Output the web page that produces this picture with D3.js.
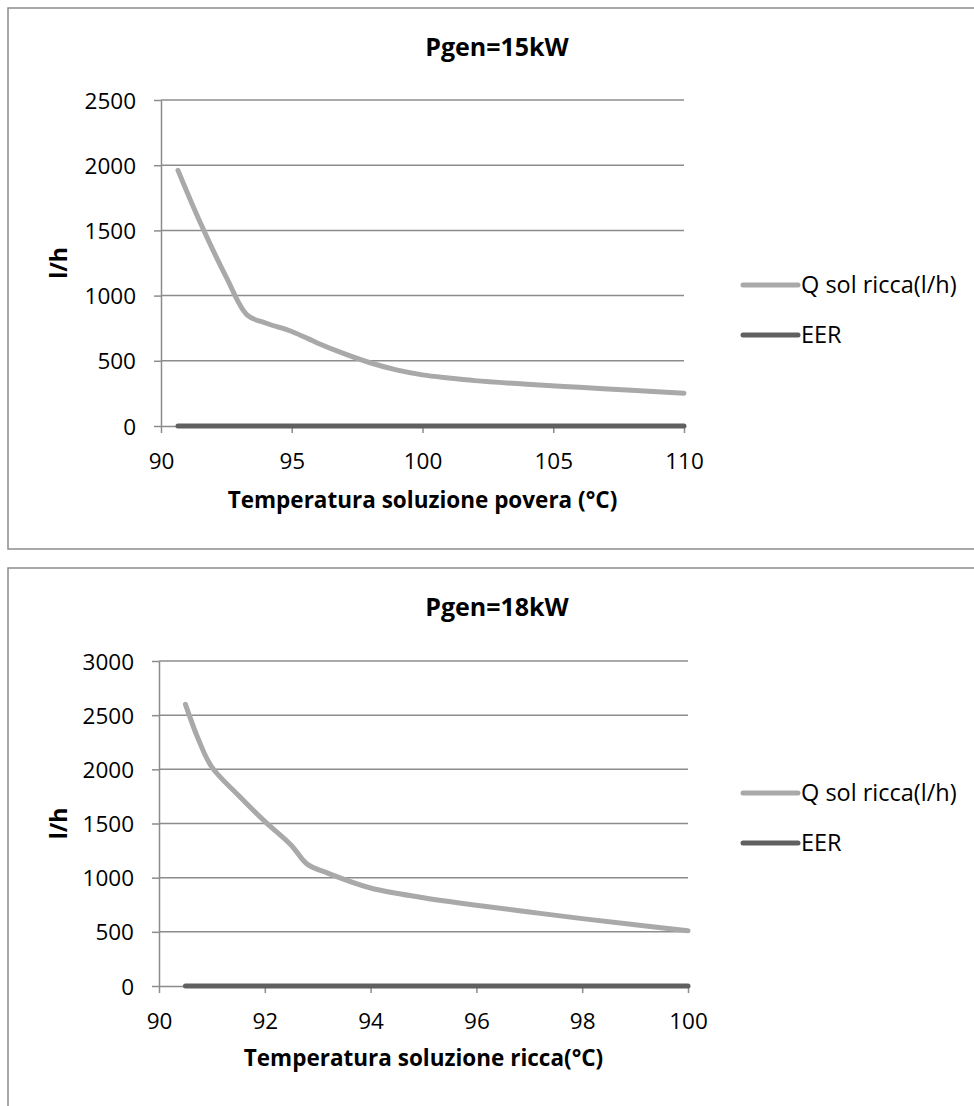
<!DOCTYPE html>
<html>
<head>
<meta charset="utf-8">
<script src="https://cdn.jsdelivr.net/npm/d3@7"></script>
<style>
  body { margin: 0; background: #fff; }
  svg { display: block; font-family: "Open Sans", sans-serif; }
</style>
</head>
<body>
<svg id="chart" width="974" height="1106"></svg>
<script>
// chart 1 : Pgen=15kW
var temp15 = [90.65, 91.5, 92.5, 93.3, 94, 95, 96, 97, 98, 99, 100, 101, 102, 104, 106, 108, 110];
var qsol15 = [1960, 1560, 1140, 850, 790, 725, 635, 555, 485, 430, 392, 368, 348, 320, 297, 274, 252];
var eer15  = [0, 0, 0, 0, 0, 0, 0, 0, 0, 0, 0, 0, 0, 0, 0, 0, 0];
var xTicks15 = [90, 95, 100, 105, 110];
var yTicks15 = [0, 500, 1000, 1500, 2000, 2500];

// chart 2 : Pgen=18kW
var temp18 = [90.5, 90.75, 91, 91.5, 92, 92.5, 92.8, 93.2, 94, 95, 96, 97, 98, 99, 100];
var qsol18 = [2600, 2270, 2020, 1760, 1520, 1300, 1125, 1040, 905, 815, 745, 683, 622, 565, 510];
var eer18  = [0, 0, 0, 0, 0, 0, 0, 0, 0, 0, 0, 0, 0, 0, 0];
var xTicks18 = [90, 92, 94, 96, 98, 100];
var yTicks18 = [0, 500, 1000, 1500, 2000, 2500, 3000];

var seriesNames = ["Q sol ricca(l/h)", "EER"];
var seriesColors = ["#a9a9a9", "#606060"];

var svg = d3.select("#chart");

function drawChart(cfg) {
  var g = svg.append("g");

  // outer frame
  g.append("rect")
    .attr("x", cfg.frame[0]).attr("y", cfg.frame[1])
    .attr("width", cfg.frame[2]).attr("height", cfg.frame[3])
    .attr("fill", "#fff")
    .attr("stroke", "#8c8c8c")
    .attr("stroke-width", 1.5);

  var x = d3.scaleLinear().domain(cfg.xDomain).range([cfg.left, cfg.right]);
  var y = d3.scaleLinear().domain(cfg.yDomain).range([cfg.bottom, cfg.top]);

  // gridlines
  g.selectAll(".grid")
    .data(cfg.yTicks.filter(function(d) { return d > 0; }))
    .enter().append("line")
    .attr("x1", cfg.left).attr("x2", cfg.right)
    .attr("y1", function(d) { return y(d); })
    .attr("y2", function(d) { return y(d); })
    .attr("stroke", "#8c8c8c")
    .attr("stroke-width", 1.5);

  var yAxis = g.append("g")
    .attr("transform", "translate(" + cfg.left + ",0)")
    .call(d3.axisLeft(y).tickValues(cfg.yTicks).tickFormat(d3.format("d"))
      .tickSizeInner(7).tickSizeOuter(0).tickPadding(18));

  var xAxis = g.append("g")
    .attr("transform", "translate(0," + cfg.bottom + ")")
    .call(d3.axisBottom(x).tickValues(cfg.xTicks).tickFormat(d3.format("d"))
      .tickSizeInner(7).tickSizeOuter(0).tickPadding(20));

  [xAxis, yAxis].forEach(function(a) {
    a.select(".domain").attr("stroke", "#8c8c8c").attr("stroke-width", 1.5);
    a.selectAll(".tick line").attr("stroke", "#8c8c8c").attr("stroke-width", 1.5);
    a.selectAll(".tick text")
      .attr("fill", "#000")
      .style("font-size", "22.5px")
      .style("font-family", "'Open Sans', sans-serif");
  });
  yAxis.selectAll(".tick text").attr("dy", "0.36em");

  // lines
  var line = d3.line()
    .x(function(d) { return x(d[0]); })
    .y(function(d) { return y(d[1]); })
    .curve(d3.curveCatmullRom.alpha(0.5));

  cfg.series.forEach(function(s, i) {
    g.append("path")
      .datum(d3.zip(cfg.temps, s))
      .attr("d", line)
      .attr("fill", "none")
      .attr("stroke", seriesColors[i])
      .attr("stroke-width", 5)
      .attr("stroke-linecap", "round")
      .attr("stroke-linejoin", "round");
  });

  // title
  g.append("text")
    .attr("x", cfg.titleX).attr("y", cfg.titleY)
    .attr("text-anchor", "middle")
    .style("font-size", "25px").style("font-weight", "bold")
    .text(cfg.title);

  // axis titles
  g.append("text")
    .attr("x", (cfg.left + cfg.right) / 2).attr("y", cfg.xTitleY)
    .attr("text-anchor", "middle")
    .style("font-size", "22.5px").style("font-weight", "bold")
    .text(cfg.xTitle);

  g.append("text")
    .attr("transform", "translate(" + 67 + "," + (cfg.top + cfg.bottom) / 2 + ") rotate(-90)")
    .attr("text-anchor", "middle")
    .style("font-size", "23px").style("font-weight", "bold")
    .text("l/h");

  // legend
  var legend = g.selectAll(".legend")
    .data(seriesNames)
    .enter().append("g")
    .attr("transform", function(d, i) { return "translate(743," + (cfg.legendY + i * 50) + ")"; });

  legend.append("line")
    .attr("x1", 0).attr("x2", 55)
    .attr("stroke", function(d, i) { return seriesColors[i]; })
    .attr("stroke-width", 5)
    .attr("stroke-linecap", "round");

  legend.append("text")
    .attr("x", 58).attr("dy", "0.36em")
    .style("font-size", "23.5px")
    .text(function(d) { return d; });
}

drawChart({
  frame: [8, 8, 1000, 541],
  left: 161, right: 684, top: 100, bottom: 426,
  xDomain: [90, 110], yDomain: [0, 2500],
  xTicks: xTicks15, yTicks: yTicks15,
  temps: temp15, series: [qsol15, eer15],
  title: "Pgen=15kW", titleX: 497, titleY: 56,
  xTitle: "Temperatura soluzione povera (°C)", xTitleY: 508,
  legendY: 285
});

drawChart({
  frame: [8, 568, 1000, 600],
  left: 159, right: 688, top: 661, bottom: 986,
  xDomain: [90, 100], yDomain: [0, 3000],
  xTicks: xTicks18, yTicks: yTicks18,
  temps: temp18, series: [qsol18, eer18],
  title: "Pgen=18kW", titleX: 497, titleY: 616,
  xTitle: "Temperatura soluzione ricca(°C)", xTitleY: 1066,
  legendY: 793
});
</script>
</body>
</html>
